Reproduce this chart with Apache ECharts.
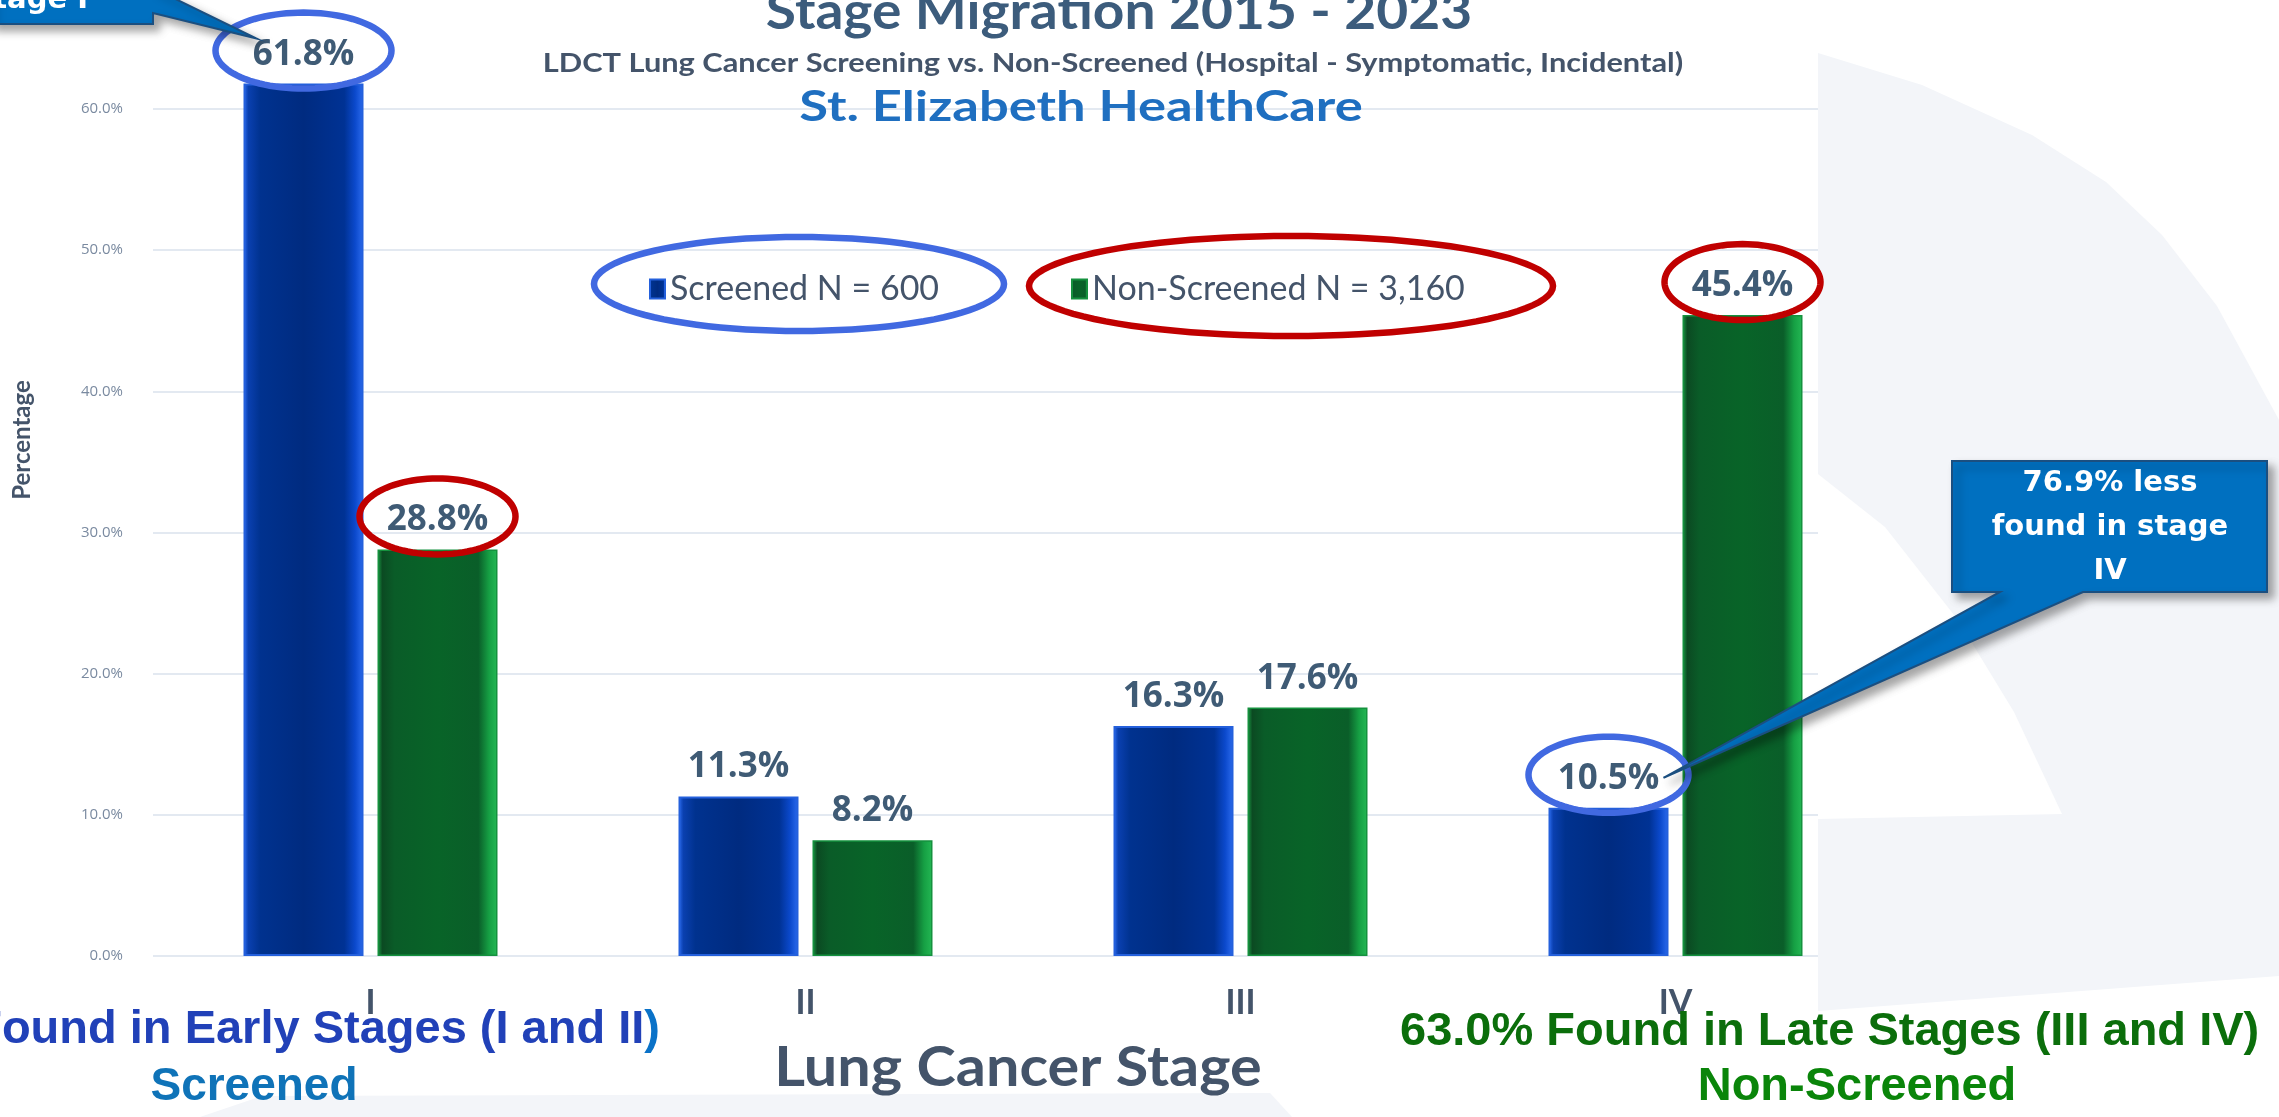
<!DOCTYPE html>
<html lang="en">
<head>
<meta charset="UTF-8">
<title>Stage Migration 2015 - 2023</title>
<script src="https://cdn.jsdelivr.net/npm/echarts@6/dist/echarts.min.js"></script>
<style>
    html, body { margin: 0; padding: 0; background: #fff; }
    #chart { width: 2279px; height: 1117px; }
</style>
</head>
<body>
<div id="chart"></div>
<script>
    var stages = ['I', 'II', 'III', 'IV'];
    var seriesNames = ['Screened N = 600', 'Non-Screened N = 3,160'];
    var screened = [61.8, 11.3, 16.3, 10.5];
    var nonScreened = [28.8, 8.2, 17.6, 45.4];
    var yTicks = [0, 10, 20, 30, 40, 50, 60];

    // circled values: series index, stage index, ring colour, half width
    var circled = [[0, 0, '#4169e1', 88], [1, 0, '#c00000', 78], [1, 3, '#c00000', 78], [0, 3, '#4169e1', 80]];

    var barW = 120, barGapPx = 14;
    var slate = '#44546a';

    function bevel(stops) {
        return new echarts.graphic.LinearGradient(0, 0, 1, 0, stops.map(function (s) {
            return {offset: s[0], color: s[1]};
        }));
    }
    var blueFill = bevel([[0, '#2b6cf0'], [0.04, '#0a40b0'], [0.14, '#00328f'], [0.5, '#002b80'], [0.84, '#003294'], [0.93, '#0b49cc'], [1, '#2d6cee']]);
    var greenFill = bevel([[0, '#1a9c44'], [0.04, '#0b4a22'], [0.14, '#0a5c28'], [0.5, '#086428'], [0.84, '#0a5e29'], [0.93, '#16a044'], [1, '#24b854']]);

    function valueLabel() {
        return {
            show: true, position: 'top', distance: 10,
            formatter: function (p) { return p.value.toFixed(1) + '%'; },
            fontFamily: 'Open Sans', fontWeight: 'bold', fontSize: 35, lineHeight: 38, color: '#3f5b75'
        };
    }

    function legendFor(name, left) {
        return {
            data: [name], left: left, top: 267, selectedMode: false,
            icon: 'rect', itemWidth: 15, itemHeight: 19, itemGap: 0,
            textStyle: {fontFamily: 'Lato', fontSize: 34, color: slate}
        };
    }

    var ct = echarts.init(document.getElementById('chart'));
    var option = {
        backgroundColor: '#ffffff',
        animation: false,
        grid: {left: 153, right: 386, top: 109, bottom: 161, containLabel: false, outerBoundsMode: 'none'},
        legend: [legendFor(seriesNames[0], 644), legendFor(seriesNames[1], 1066)],
        xAxis: {
            type: 'category', data: stages,
            axisLine: {show: false}, axisTick: {show: false},
            axisLabel: {margin: 30, fontFamily: 'Lato', fontWeight: 'bold', fontSize: 34, lineHeight: 34, color: slate}
        },
        yAxis: {
            type: 'value', min: yTicks[0], max: yTicks[yTicks.length - 1], interval: yTicks[1] - yTicks[0],
            axisLine: {show: false}, axisTick: {show: false},
            axisLabel: {
                margin: 30, fontFamily: 'Open Sans', fontSize: 15, color: '#7a8aa0',
                formatter: function (v) { return v.toFixed(1) + '%'; }
            },
            splitLine: {lineStyle: {color: '#e3e9f1', width: 2}}
        },
        series: [
            {
                name: seriesNames[0], type: 'bar', data: screened, barWidth: barW, barGap: (barGapPx / barW * 100) + '%',
                clip: false, z: 3,
                itemStyle: {color: blueFill, borderColor: '#2460dc', borderWidth: 2},
                label: valueLabel()
            },
            {
                name: seriesNames[1], type: 'bar', data: nonScreened, barWidth: barW,
                clip: false, z: 3,
                itemStyle: {color: greenFill, borderColor: '#15913e', borderWidth: 1.5},
                label: valueLabel()
            }
        ]
    };
    ct.setOption(option);

    function ring(cx, cy, rx, ry, color, width) {
        var pts = [];
        for (var i = 0; i < 96; i++) {
            var a = i / 96 * Math.PI * 2;
            pts.push([cx + rx * Math.cos(a), cy + ry * Math.sin(a)]);
        }
        return {type: 'polygon', z: 10, shape: {points: pts}, style: {fill: 'none', stroke: color, lineWidth: width}};
    }

    function label(x, y, text, font, size, fill, sx, extra) {
        var style = Object.assign({text: text, align: 'center', verticalAlign: 'middle', fontFamily: font, fontWeight: 'bold', fontSize: size, fill: fill}, extra || {});
        return {type: 'text', z: 20, x: x, y: y, scaleX: sx || 1, style: style};
    }

    var shadow = {shadowBlur: 8, shadowColor: 'rgba(0,0,0,0.35)', shadowOffsetX: 6, shadowOffsetY: 6};
    var graphics = [];

    // light watermark panel on the right and along the bottom
    graphics.push({type: 'rect', z: 1, shape: {x: 1818, y: 0, width: 461, height: 1117}, style: {fill: '#ffffff'}});
    graphics.push({type: 'polygon', z: 1, shape: {points: [[1818, 53], [1922, 85], [2032, 135], [2106, 182], [2162, 235], [2217, 306], [2279, 420], [2279, 976], [1818, 1011], [1818, 819], [2062, 814], [2014, 712], [1958, 620], [1885, 527], [1818, 474]]}, style: {fill: '#f3f5f9'}});
    graphics.push({type: 'polygon', z: 1, shape: {points: [[200, 1117], [262, 1096], [1270, 1093], [1292, 1117]]}, style: {fill: '#f3f5f9'}});

    // circled data labels
    var centres = [];
    circled.forEach(function (c) {
        var vals = c[0] === 0 ? screened : nonScreened;
        var cx = ct.convertToPixel({xAxisIndex: 0}, stages[c[1]]) + (c[0] === 0 ? -1 : 1) * (barW + barGapPx) / 2;
        var cy = ct.convertToPixel({yAxisIndex: 0}, vals[c[1]]) - 31;
        centres.push([cx, cy]);
        graphics.push(ring(cx, cy - 2, c[3], 38, c[2], 6.5));
    });

    // legend rings
    graphics.push(ring(799, 284, 205, 47, '#4169e1', 6.5));
    graphics.push(ring(1291, 286, 262, 50, '#c00000', 6.5));

    // titles
    graphics.push(label(1119, 12, 'Stage Migration 2015 - 2023', 'Lato', 52, '#3c5c7c', 1.06));
    graphics.push(label(1113, 63, 'LDCT Lung Cancer Screening vs. Non-Screened (Hospital - Symptomatic, Incidental)', 'Lato', 27, slate, 1.14));
    graphics.push(label(1081, 107, 'St. Elizabeth HealthCare', 'Lato', 42, '#1f6fc0', 1.25));

    // axis names
    var yName = label(22, 440, 'Percentage', 'Lato', 24, slate);
    yName.rotation = Math.PI / 2;
    graphics.push(yName);
    graphics.push(label(1018, 1068, 'Lung Cancer Stage', 'Lato', 56, slate, 1.06));

    // bottom summaries
    graphics.push({type: 'text', z: 20, x: 660, y: 1030, style: {
        text: '{a|73.1% Found in Early Stages (I and II}{b|)}', align: 'right', verticalAlign: 'middle',
        rich: {
            a: {fontFamily: 'Liberation Sans', fontWeight: 'bold', fontSize: 47, fill: '#2141b8'},
            b: {fontFamily: 'Liberation Sans', fontWeight: 'bold', fontSize: 47, fill: '#0a72c8'}
        }
    }});
    graphics.push(label(254, 1087, 'Screened', 'Liberation Sans', 46, '#0f73b8'));
    graphics.push(label(1400, 1032, '63.0% Found in Late Stages (III and IV)', 'Liberation Sans', 47, '#0b6e0b', 1, {align: 'left'}));
    graphics.push(label(1857, 1087, 'Non-Screened', 'Liberation Sans', 47, '#0a850a'));

    // callout pointing at stage I (cut off at the top edge)
    var tipI = [centres[0][0] - 47, centres[0][1] - 14];
    graphics.push({type: 'polygon', z: 15, shape: {points: [[-10, -60], [153, -60], [153, -12], tipI, [153, 13], [153, 24], [-10, 24]]},
        style: Object.assign({fill: '#0070c0', stroke: '#1b4f80', lineWidth: 2}, shadow)});
    graphics.push(label(88, 0, 'stage I', 'DejaVu Sans', 29, '#ffffff', 1, {align: 'right'}));

    // callout pointing at stage IV screened
    var tipIV = [centres[3][0] + 55, centres[3][1] + 1];
    graphics.push({type: 'polygon', z: 15, shape: {points: [[1952, 461], [2267, 461], [2267, 592], [2083, 592], tipIV, [2000, 592], [1952, 592]]},
        style: Object.assign({fill: '#0070c0', stroke: '#1b4f80', lineWidth: 2}, shadow)});
    graphics.push(label(2110, 527, '76.9% less\nfound in stage\nIV', 'DejaVu Sans', 29, '#ffffff', 1, {lineHeight: 44}));

    ct.setOption({graphic: graphics});
</script>
</body>
</html>
